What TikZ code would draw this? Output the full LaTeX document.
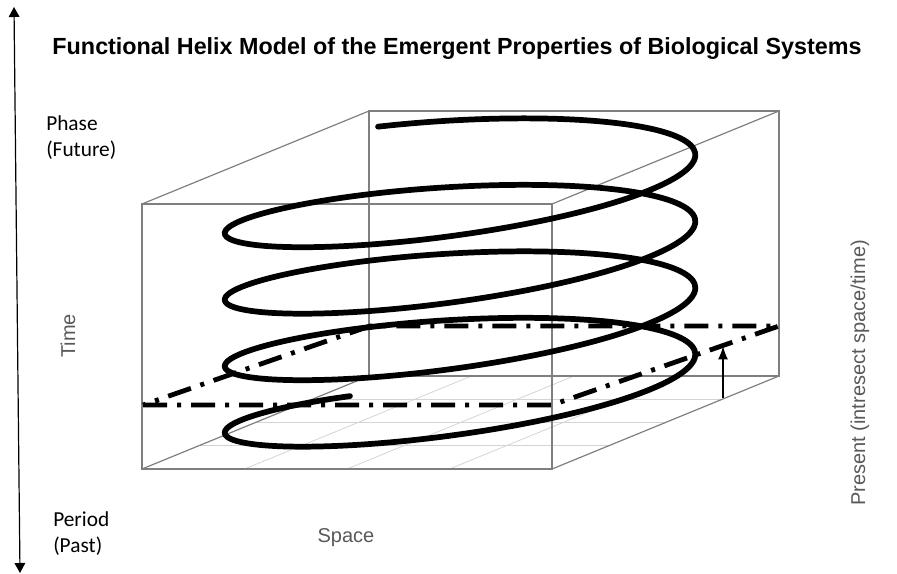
\documentclass[tikz,border=0pt]{standalone}
\usepackage{fontspec}
\setmainfont{Liberation Sans}
\newfontfamily\calibrifont{Carlito}
\usepackage{tikz}
\usepackage{xcolor}
\usetikzlibrary{arrows.meta}

\definecolor{labelgray}{HTML}{595959}
\definecolor{boxgray}{HTML}{7F7F7F}
\definecolor{gridgray}{HTML}{D4D4D4}

\begin{document}
\begin{tikzpicture}[
x={(0.75pt,0)}, y={(0,-0.75pt)},
edge/.style={draw=boxgray, line width=0.9pt},
gridline/.style={draw=gridgray, line width=0.6pt},
helix/.style={line width=4.3pt, line cap=round, line join=round},
plane/.style={line width=3.6pt, dash pattern=on 18pt off 7.5pt on 3pt off 7.5pt},
arrow/.style={-{Latex[length=10pt, width=7.5pt]}, line width=1.4pt},
timearrow/.style={{Triangle[length=7.5pt, width=8pt]}-{Triangle[length=7.5pt, width=8pt]}, line width=0.9pt},
axislabel/.style={text=labelgray, inner sep=0, font=\fontsize{15}{18}\selectfont},
sidelabel/.style={align=left, inner sep=0, font=\calibrifont\fontsize{16}{19.5}\selectfont}
]
\useasboundingbox (0,0) rectangle (897,574);

% corners of the box
\coordinate (fbl) at (142,469);
\coordinate (fbr) at (552,469);
\coordinate (ftr) at (552,204);
\coordinate (ftl) at (142,204);
\coordinate (bbl) at (369,376);
\coordinate (bbr) at (779,376);
\coordinate (btr) at (779,111);
\coordinate (btl) at (369,111);

% floor grid
\foreach \f in {1,2,3} {
  \draw[gridline] (142+102.5*\f,469) -- ++(227,-93);
  \draw[gridline] (142+56.75*\f,469-23.25*\f) -- ++(410,0);
}

% box
\draw[edge] (bbl) rectangle (btr);
\draw[edge] (fbl) rectangle (ftr);
\draw[edge] (fbl) -- (bbl);
\draw[edge] (fbr) -- (bbr);
\draw[edge] (ftr) -- (btr);
\draw[edge] (ftl) -- (btl);

% helix
\draw[helix] plot[domain=220.7:1653.2, samples=320, smooth, variable=\s]
  ({460+206*cos(\s)-113.8*sin(\s)}, {116.3+0.1847*\s+46.6*sin(\s)});

% present plane
\coordinate (p1) at (143,405);
\coordinate (p2) at (552,405);
\coordinate (p3) at (779,326);
\coordinate (p4) at (370,326);
\draw[plane] (p1) -- (p2) -- (p3) -- (p4) -- cycle;

\coordinate (lift) at (723,398);
\coordinate (now) at (723,346);
\draw[arrow] (lift) -- (now);

% time axis
\coordinate (future) at (14,7);
\coordinate (past) at (20,573);
\draw[timearrow] (past) -- (future);

\node[font=\bfseries\fontsize{17.5}{21}\selectfont, anchor=base] (title) at (457,55)
  {Functional Helix Model of the Emergent Properties of Biological Systems};
\node[sidelabel, anchor=base west] (phase) at (46,157) {Phase\\(Future)};
\node[sidelabel, anchor=base west] (period) at (53,552) {Period\\(Past)};
\node[axislabel, rotate=90, anchor=base] (time) at (75,336) {Time};
\node[axislabel, anchor=base] (space) at (346,542) {Space};
\node[axislabel, rotate=90, anchor=base] (present) at (865,373) {Present (intresect space/time)};
\end{tikzpicture}
\end{document}
